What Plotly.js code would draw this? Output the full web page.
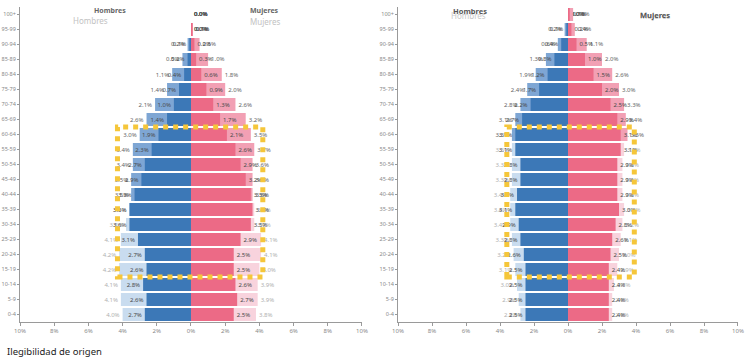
<!DOCTYPE html>
<html>
<head>
<meta charset="utf-8">
<script src="https://cdn.plot.ly/plotly-3.0.1.min.js"></script>
<style>html,body{margin:0;padding:0;background:#fff;}#chart{width:750px;height:359px;}</style>
</head>
<body>
<div id="chart"></div>
<script>
// Age groups, bottom to top
const ages = ['0-4','5-9','10-14','15-19','20-24','25-29','30-34','35-39','40-44','45-49','50-54',
              '55-59','60-64','65-69','70-74','75-79','80-84','85-89','90-94','95-99','100+'];

// Left pyramid (percent of population)
const leftMenDark    = [2.7,2.6,2.8,2.6,2.7,3.1,3.6,3.6,3.3,2.9,2.7,2.3,1.9,1.4,1.0,0.7,0.4,0.2,0.1,0.0,0.0];
const leftMenLight   = [4.0,4.1,4.1,4.2,4.2,4.1,3.8,3.6,3.5,3.5,3.4,3.4,3.0,2.6,2.1,1.4,1.1,0.5,0.2,0.0,0.0];
const leftWomenDark  = [2.5,2.7,2.6,2.5,2.5,2.9,3.5,3.6,3.5,3.2,2.9,2.6,2.1,1.7,1.3,0.9,0.6,0.3,0.2,0.1,0.0];
const leftWomenLight = [3.8,3.9,3.9,4.0,4.1,4.1,3.7,3.7,3.6,3.6,3.6,3.7,3.5,3.2,2.6,2.0,1.8,1.0,0.5,0.1,0.0];

// Right pyramid
const rightMenDark    = [2.5,2.5,2.5,2.5,2.6,2.8,2.9,3.1,3.0,2.8,2.8,3.1,3.1,2.7,2.2,1.7,1.2,0.8,0.4,0.1,0.0];
const rightMenLight   = [2.8,2.9,3.0,3.1,3.2,3.3,3.4,3.4,3.4,3.3,3.3,3.3,3.3,3.1,2.8,2.4,1.9,1.3,0.6,0.2,0.0];
const rightWomenDark  = [2.4,2.4,2.4,2.4,2.5,2.6,2.8,3.0,2.9,2.9,2.9,3.1,3.1,2.9,2.5,2.0,1.5,1.0,0.5,0.2,0.1];
const rightWomenLight = [2.6,2.6,2.7,2.9,3.0,3.1,3.2,3.3,3.2,3.2,3.2,3.3,3.5,3.4,3.3,3.0,2.6,2.0,1.1,0.4,0.3];

const tickVals = [-10,-8,-6,-4,-2,0,2,4,6,8,10];
const tickText = ['10%','8%','6%','4%','2%','0%','2%','4%','6%','8%','10%'];

// Highlighted working-age band
const bandFrom = '15-19', bandTo = '60-64';

const FONT = 'Noto Sans, Open Sans, sans-serif';
const fmt = v => v.toFixed(1) + '%';

function pyramid(menDark, menLight, womenDark, womenLight, xa, ya, split) {
  const upper = i => i >= split;
  const lbl = (arr, sign) => ({
    x: arr.map(v => sign * v), y: ages, text: arr.map(fmt)
  });
  const common = {type:'bar', orientation:'h', xaxis:xa, yaxis:ya, width:0.87,
                  textposition:'outside', cliponaxis:false, hoverinfo:'skip',
                  textfont:{family:FONT, size:6}};
  return [
    Object.assign({}, common, lbl(menLight, -1), {
      marker:{color: ages.map((a,i)=> upper(i) ? '#7ea6d4' : '#c9dcef')},
      textfont:{family:FONT, size:6, color: ages.map((a,i)=> upper(i) ? '#666' : '#b0b0b0')}
    }),
    Object.assign({}, common, lbl(menDark, -1), {
      marker:{color:'#3c78b7'},
      textfont:{family:FONT, size:6, color:'#4a4a4a'}
    }),
    Object.assign({}, common, lbl(womenLight, 1), {
      marker:{color: ages.map((a,i)=> upper(i) ? '#f2a0b4' : '#f8d3dd')},
      textfont:{family:FONT, size:6, color: ages.map((a,i)=> upper(i) ? '#666' : '#b0b0b0')}
    }),
    Object.assign({}, common, lbl(womenDark, 1), {
      marker:{color:'#ec6a86'},
      textfont:{family:FONT, size:6, color:'#4a4a4a'}
    })
  ];
}

const data = [].concat(
  pyramid(leftMenDark, leftMenLight, leftWomenDark, leftWomenLight, 'x', 'y', 8),
  pyramid(rightMenDark, rightMenLight, rightWomenDark, rightWomenLight, 'x2', 'y2', 12)
);

const i0 = ages.indexOf(bandFrom), i1 = ages.indexOf(bandTo);
const bandMax = arr => Math.max(...arr.slice(i0, i1 + 1));
const band = (xa, ya, lo, hi) => ({
  type:'rect', xref:xa, yref:ya, x0:lo, x1:hi, y0:i0 - 0.5, y1:i1 + 0.5, layer:'above',
  line:{color:'#f5c63a', width:5, dash:'5px,5px'}, fillcolor:'rgba(0,0,0,0)'
});

const xAxisBase = {range:[-10,10], tickvals:tickVals, ticktext:tickText, showgrid:false, zeroline:false,
  showline:true, linecolor:'#9a9a9a', linewidth:1, ticks:'outside', ticklen:3, tickcolor:'#9a9a9a',
  tickfont:{family:FONT, size:6, color:'#888'}, fixedrange:true};
const yAxisBase = {type:'category', categoryorder:'array', categoryarray:ages, range:[-0.5,20.5],
  showgrid:false, zeroline:false, showline:true, linecolor:'#9a9a9a', ticks:'outside', ticklen:2,
  tickcolor:'#9a9a9a', tickfont:{family:FONT, size:5.5, color:'#888'}, fixedrange:true};

const ann = (text, x, y, size, color) => ({text, x, y, xref:'paper', yref:'paper', showarrow:false,
  font:{family:FONT, size, color}, xanchor:'center', yanchor:'middle'});

const layout = {
  width:750, height:359, margin:{l:20, r:12, t:7, b:37},
  paper_bgcolor:'#fff', plot_bgcolor:'#fff', showlegend:false, barmode:'overlay',
  xaxis: Object.assign({}, xAxisBase, {domain:[0, 0.4763], anchor:'y'}),
  yaxis: Object.assign({}, yAxisBase, {anchor:'x'}),
  xaxis2: Object.assign({}, xAxisBase, {domain:[0.5265, 1], anchor:'y2'}),
  yaxis2: Object.assign({}, yAxisBase, {anchor:'x2'}),
  shapes: [
    band('x', 'y', -(bandMax(leftMenLight) + 0.1), bandMax(leftWomenLight) + 0.1),
    band('x2', 'y2', -(bandMax(rightMenLight) + 0.2), bandMax(rightWomenLight) + 0.4)
  ],
  annotations: [
    ann('<b>Hombres</b>', 0.1253, 0.990, 7, '#666'),
    ann('Hombres', 0.0975, 0.957, 8, '#c2c2c2'),
    ann('<b>Mujeres</b>', 0.341, 0.990, 7, '#666'),
    ann('Mujeres', 0.341, 0.955, 8, '#c2c2c2'),
    ann('Hombres', 0.624, 0.972, 8, '#c8c8c8'),
    ann('<b>Hombres</b>', 0.6267, 0.988, 7.5, '#555'),
    ann('Mujeres', 0.8844, 0.972, 8, '#c8c8c8'),
    ann('<b>Mujeres</b>', 0.8844, 0.975, 7.5, '#555'),
    {text:'Ilegibilidad de origen', x:-0.0209, y:-0.095, xref:'paper', yref:'paper', showarrow:false,
     xanchor:'left', yanchor:'middle', font:{family:FONT, size:9.5, color:'#222'}}
  ]
};

Plotly.newPlot('chart', data, layout, {staticPlot:true, displayModeBar:false});
</script>
</body>
</html>
